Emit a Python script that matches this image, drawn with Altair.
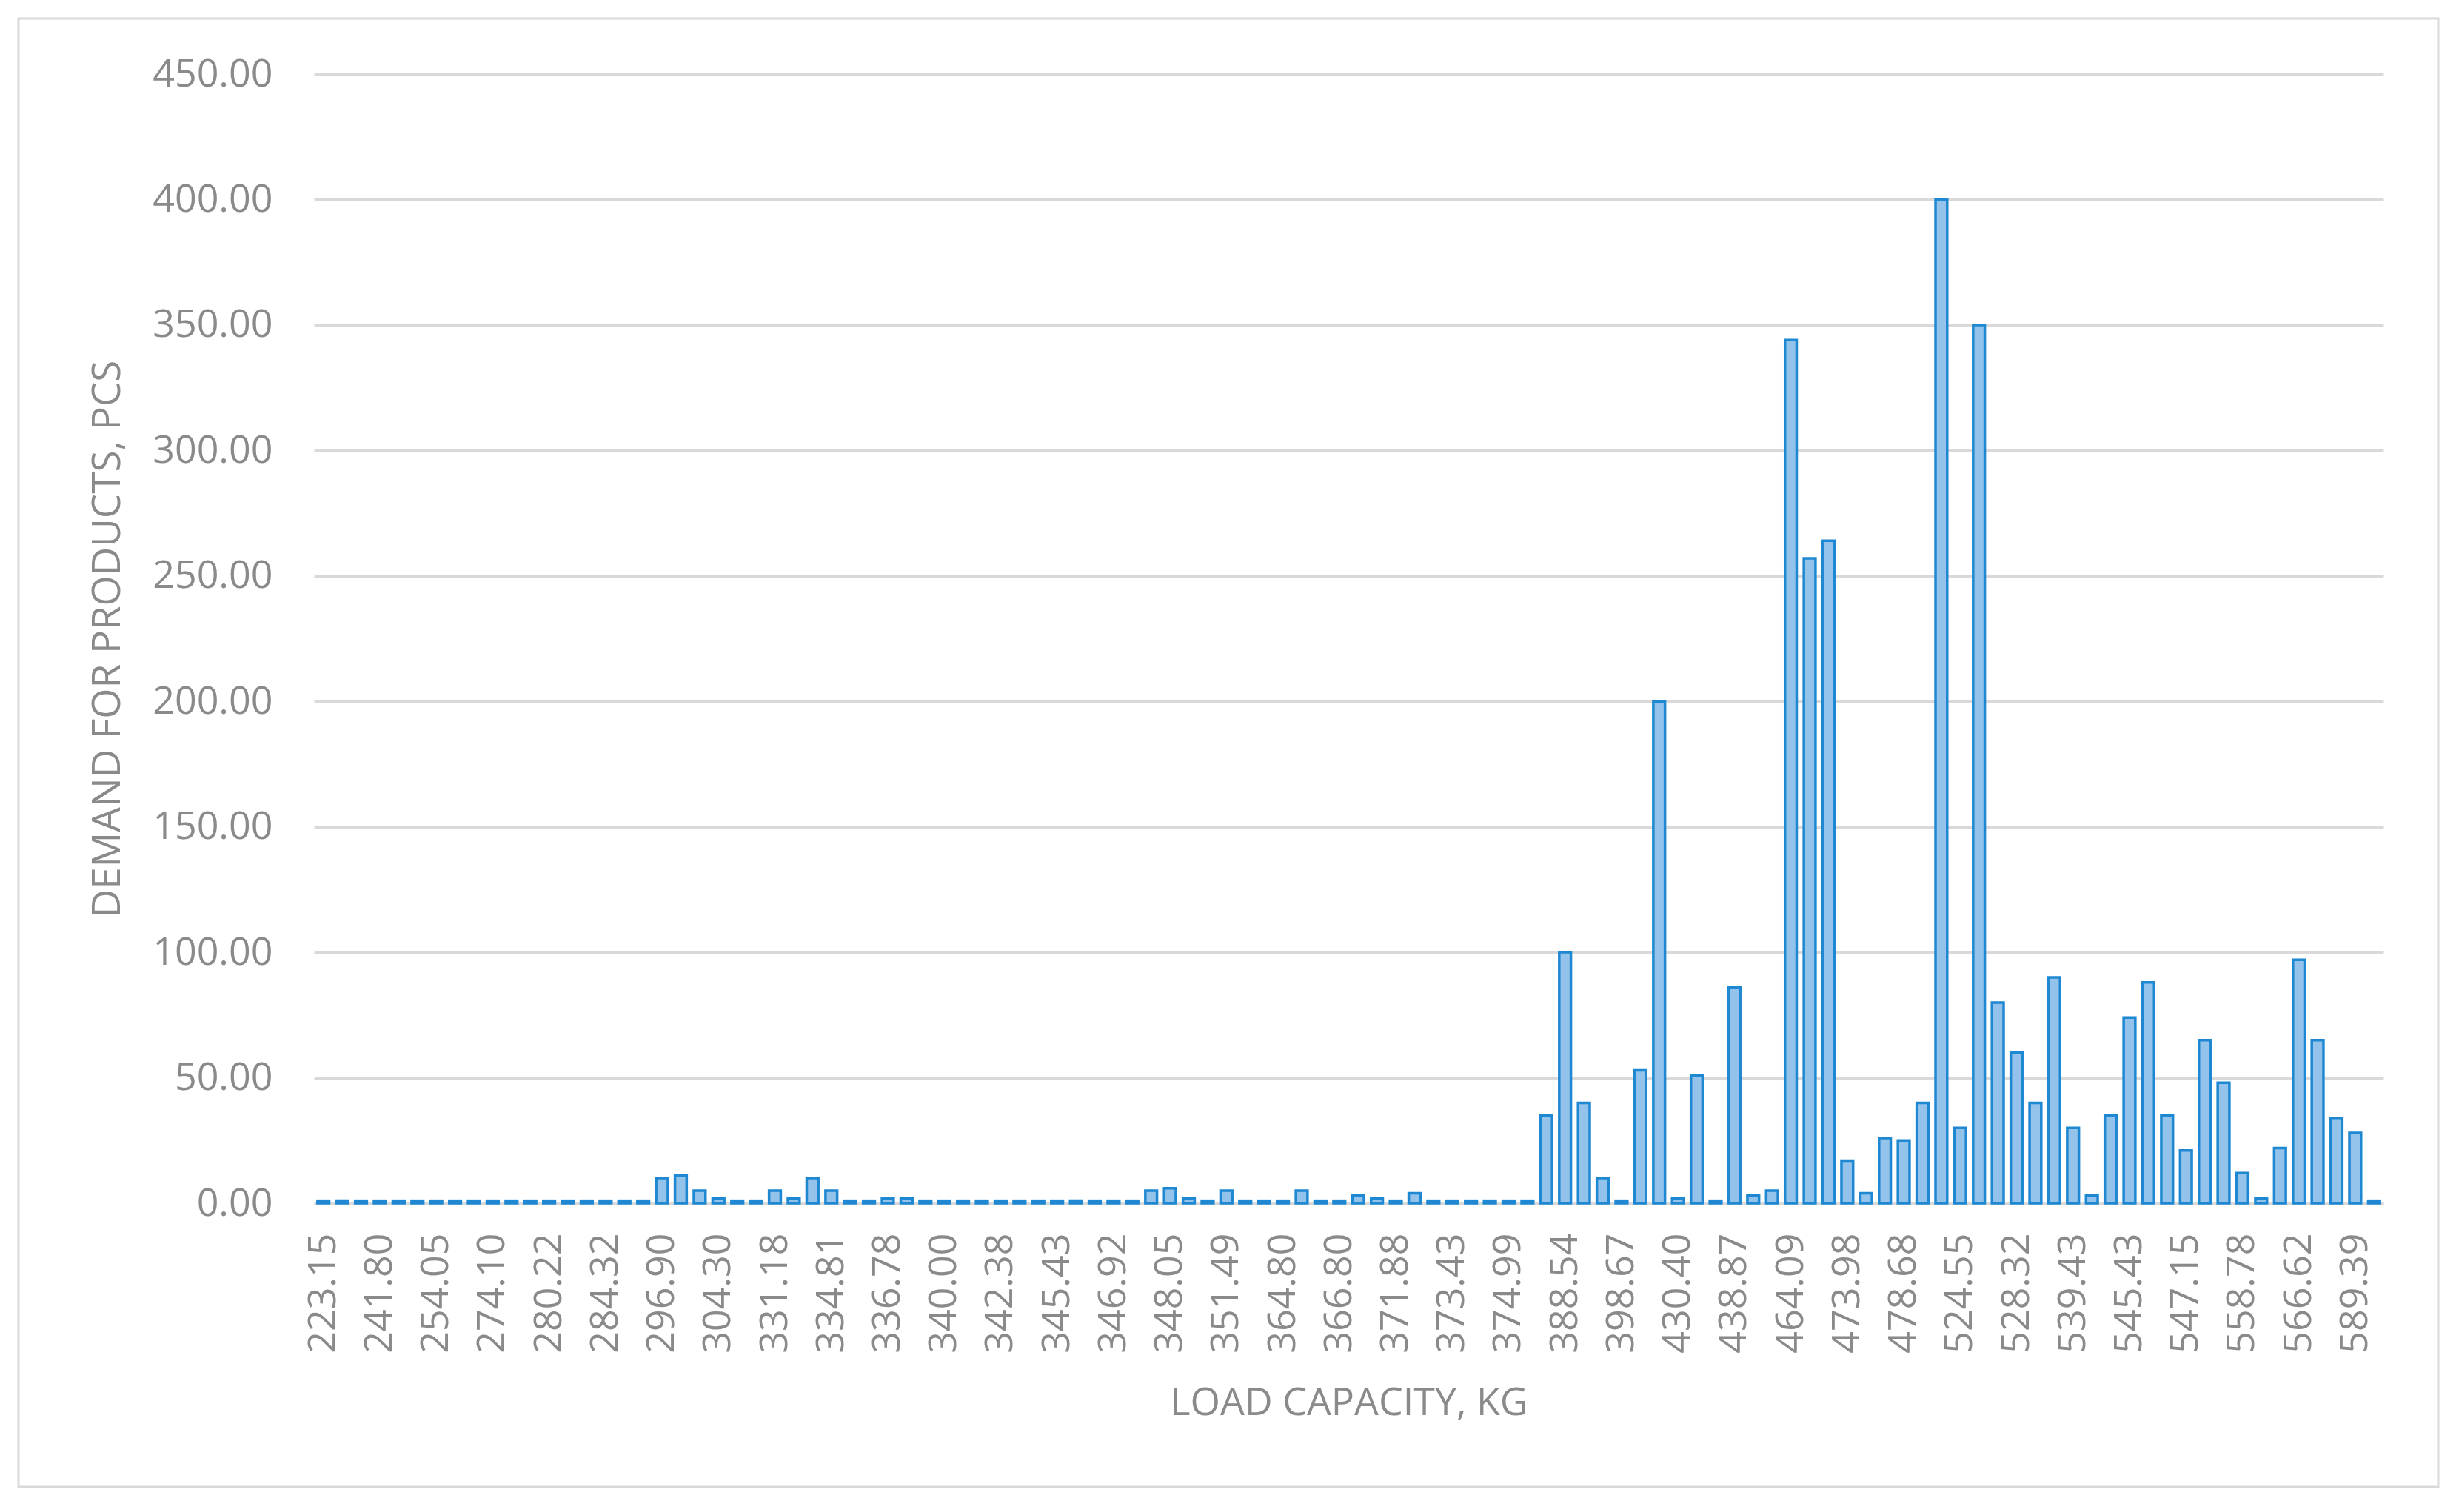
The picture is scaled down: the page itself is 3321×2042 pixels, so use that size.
import altair as alt
import pandas as pd

# Category tick labels (every 3rd category is labelled on the axis)
tick_labels = ["223.15", "241.80", "254.05", "274.10", "280.22", "284.32", "296.90",
               "304.30", "331.18", "334.81", "336.78", "340.00", "342.38", "345.43",
               "346.92", "348.05", "351.49", "364.80", "366.80", "371.88", "373.43",
               "374.99", "388.54", "398.67", "430.40", "438.87", "464.09", "473.98",
               "478.68", "524.55", "528.32", "539.43", "545.43", "547.15", "558.78",
               "566.62", "589.39"]
label_every = 3

# Demand for products, pcs (one value per bar, left to right)
demand = [1, 1, 1, 1, 1, 1, 1, 1, 1, 1,
          1, 1, 1, 1, 1, 1, 1, 1, 10, 11,
          5, 2, 1, 1, 5, 2, 10, 5, 1, 1,
          2, 2, 1, 1, 1, 1, 1, 1, 1, 1,
          1, 1, 1, 1, 5, 6, 2, 1, 5, 1,
          1, 1, 5, 1, 1, 3, 2, 1, 4, 1,
          1, 1, 1, 1, 1, 35, 100, 40, 10, 1,
          53, 200, 2, 51, 1, 86, 3, 5, 344, 257,
          264, 17, 4, 26, 25, 40, 400, 30, 350, 80,
          60, 40, 90, 30, 3, 35, 74, 88, 35, 21,
          65, 48, 12, 2, 22, 97, 65, 34, 28, 1]

y_ticks = [0, 50, 100, 150, 200, 250, 300, 350, 400, 450]

df = pd.DataFrame({"idx": list(range(len(demand))), "demand": demand})
label_positions = [i * label_every for i in range(len(tick_labels))]
label_expr = "[" + ",".join(f"'{t}'" for t in tick_labels) + f"][datum.value / {label_every}]"

FONT = "Open Sans"
GRAY = "#8a8a8a"
GRID = "#d9d9d9"

W, H = 2795, 1525

bars = alt.Chart(df).mark_bar(
    fill="#93c2ea", stroke="#1f88d2", strokeWidth=3.5
).encode(
    x=alt.X("idx:O",
            scale=alt.Scale(paddingInner=0.38, paddingOuter=0.19),
            axis=alt.Axis(values=label_positions, labelExpr=label_expr,
                          labelAngle=270, labelFontSize=52, labelFont=FONT,
                          labelColor=GRAY, labelPadding=40, labelOverlap=False,
                          ticks=False, domain=True, domainColor=GRID,
                          domainWidth=3, grid=False,
                          title="LOAD CAPACITY, KG", titleFont=FONT,
                          titleFontSize=52, titleFontWeight="normal",
                          titleColor=GRAY, titlePadding=44)),
    y=alt.Y("demand:Q",
            scale=alt.Scale(domain=[0, 450], nice=False),
            axis=alt.Axis(values=y_ticks, format=".2f", labelFontSize=52,
                          labelFont=FONT, labelColor=GRAY, labelPadding=56,
                          ticks=False, domain=False, grid=True,
                          gridColor=GRID, gridWidth=3,
                          title="DEMAND FOR PRODUCTS, PCS", titleFont=FONT,
                          titleFontSize=53, titleFontWeight="normal",
                          titleColor=GRAY, titlePadding=52)),
)

frame = alt.Chart(pd.DataFrame({"a": [0]})).mark_rect(
    fillOpacity=0, stroke=GRID, strokeWidth=3
).encode(
    x=alt.value(-399), x2=alt.value(2869),
    y=alt.value(-75), y2=alt.value(1908)
)

chart = alt.layer(frame, bars).properties(
    width=W, height=H,
    autosize=alt.AutoSizeParams(type="none"),
    padding={"left": 416, "top": 92, "right": 80, "bottom": 395},
    background="white"
).configure_view(stroke=None)

chart.save("out.html", embed_options={"renderer": "svg", "actions": False})
